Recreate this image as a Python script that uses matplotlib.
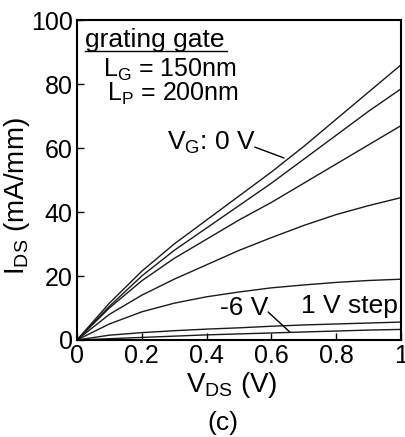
import matplotlib
matplotlib.use('Agg')
import matplotlib.pyplot as plt

plt.rcParams['font.family'] = ['Liberation Sans', 'DejaVu Sans']
plt.rcParams['mathtext.fontset'] = 'custom'
plt.rcParams['mathtext.rm'] = 'Liberation Sans'
plt.rcParams['mathtext.it'] = 'Liberation Sans'

# drain voltage sweep (V)
vds = [0.0, 0.1, 0.2, 0.3, 0.4, 0.5, 0.6, 0.7, 0.8, 0.9, 1.0]

# I_DS (mA/mm) for V_G = 0 ... -6 V, 1 V step
ids_0v = [0, 11.5, 21.5, 30, 37.5, 45, 52.5, 60.5, 69, 77.5, 86]
ids_m1v = [0, 10.5, 20, 28, 35, 42, 49, 56.5, 64, 71.5, 78.5]
ids_m2v = [0, 10, 18.5, 25.5, 31.5, 37.5, 43, 49, 55, 61, 67]
ids_m3v = [0, 8, 14, 19, 23.5, 28, 32, 35.8, 39.2, 42, 44.5]
ids_m4v = [0, 5, 8.8, 11.5, 13.5, 15, 16.3, 17.2, 18, 18.6, 19]
ids_m5v = [0, 1.5, 2.3, 2.9, 3.4, 3.8, 4.3, 4.7, 5.0, 5.3, 5.6]
ids_m6v = [0, 0.4, 0.8, 1.2, 1.6, 1.9, 2.2, 2.5, 2.8, 3.1, 3.3]

curves = [ids_0v, ids_m1v, ids_m2v, ids_m3v, ids_m4v, ids_m5v, ids_m6v]

fig = plt.figure(figsize=(4.05, 4.37), dpi=100)
ax = fig.add_axes([0.190, 0.222, 0.800, 0.732])

for ids in curves:
    ax.plot(vds, ids, color='#1a1a1a', lw=1.0)

ax.set_xlim(0, 1)
ax.set_ylim(0, 100)
ax.set_xticks([0, 0.2, 0.4, 0.6, 0.8, 1])
ax.set_xticklabels(['0', '0.2', '0.4', '0.6', '0.8', '1'])
ax.set_yticks([0, 20, 40, 60, 80, 100])
ax.tick_params(direction='in', length=5, width=1, labelsize=18, pad=3)
for s in ax.spines.values():
    s.set_linewidth(1.5)

ax.set_xlabel(r'$\mathrm{V_{DS}}$ (V)', fontsize=20, labelpad=1)
ax.xaxis.set_label_coords(0.478, -0.095)
ax.xaxis.label.set_va('top')
ax.set_ylabel(r'$\mathrm{I_{DS}}$ (mA/mm)', fontsize=20)
ax.yaxis.set_label_coords(-0.14, 0.45)

# annotations
fs = 19
ax.text(0.025, 0.916, 'grating gate', fontsize=fs, transform=ax.transAxes, va='baseline')
ax.plot([0.025, 0.463], [0.904, 0.904], transform=ax.transAxes, color='black', lw=1)
ax.text(0.080, 0.824, r'$\mathrm{L_G}$ = 150nm', fontsize=18, transform=ax.transAxes, va='baseline')
ax.text(0.093, 0.748, r'$\mathrm{L_P}$ = 200nm', fontsize=18, transform=ax.transAxes, va='baseline')

ax.text(0.278, 59.4, r'$\mathrm{V_G}$: 0 V', fontsize=fs, va='baseline')
ax.annotate('', xy=(0.639, 56.9), xytext=(0.549, 60.3),
            arrowprops=dict(arrowstyle='-', color='black', lw=1, shrinkA=0, shrinkB=0))
ax.text(0.441, 7.8, '-6 V', fontsize=fs, va='baseline')
ax.annotate('', xy=(0.657, 2.5), xytext=(0.590, 8.75),
            arrowprops=dict(arrowstyle='-', color='black', lw=1, shrinkA=0, shrinkB=0))
ax.text(0.991, 8.4, '1 V step', fontsize=fs, ha='right', va='baseline')

fig.text(0.551, 0.032, '(c)', fontsize=fs, ha='center', va='center')

fig.savefig('out.png', dpi=100)
